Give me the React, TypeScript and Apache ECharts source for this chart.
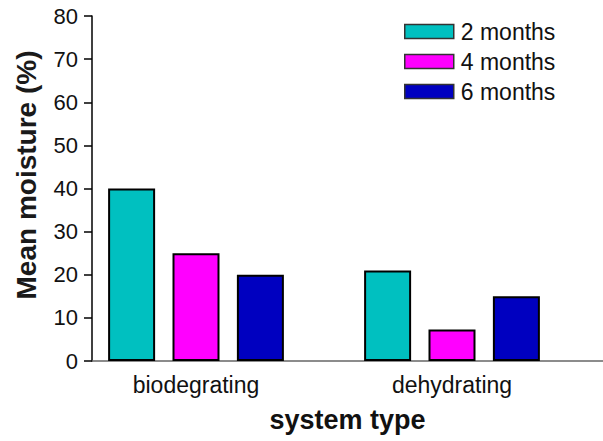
import React, { useEffect, useRef } from "react";
import * as echarts from "echarts";

const categories = ["biodegrating", "dehydrating"];
const seriesNames = ["2 months", "4 months", "6 months"];
const twoMonths = [40, 21];
const fourMonths = [25, 7.3];
const sixMonths = [20, 15];
const seriesColors = ["#00C0C0", "#FF00FF", "#0000C0"];

export default function App() {
  const ref = useRef<HTMLDivElement>(null);
  useEffect(() => {
    if (!ref.current) return;
    const chart = echarts.init(ref.current, undefined, { renderer: "svg" });
    const values = [twoMonths, fourMonths, sixMonths];
    const font = "Liberation Sans, Arial, sans-serif";
    chart.setOption({
      animation: false,
      backgroundColor: "#ffffff",
      textStyle: { fontFamily: font },
      legend: {
        orient: "vertical",
        left: 404,
        top: 20,
        padding: 0,
        itemWidth: 49,
        itemHeight: 14,
        itemGap: 7,
        icon: "rect",
        textStyle: { fontSize: 23, color: "#111", fontFamily: font, padding: [0, 0, 0, 2] },
        itemStyle: { borderColor: "#333", borderWidth: 1.5 },
        data: seriesNames,
      },
      grid: [
        { left: 68, right: 23, top: 16, bottom: 80 },
        { left: 92, right: 0, top: 16, bottom: 80 },
      ],
      xAxis: [
        {
          type: "category",
          gridIndex: 0,
          data: categories,
          axisLine: { show: false },
          axisTick: { show: false },
          axisLabel: { fontSize: 23, color: "#111", margin: 12, fontFamily: font },
        },
        {
          type: "value",
          gridIndex: 1,
          min: 0,
          max: 1,
          axisLine: { show: true, lineStyle: { color: "#666", width: 1.5 } },
          axisTick: { show: false },
          axisLabel: { show: false },
          splitLine: { show: false },
          name: "system type",
          nameLocation: "middle",
          nameGap: 45,
          nameTextStyle: { fontSize: 27, fontWeight: "bold", color: "#111", fontFamily: font },
        },
      ],
      yAxis: [
        { type: "value", gridIndex: 0, min: 0, max: 80, show: false },
        {
          type: "value",
          gridIndex: 1,
          min: 0,
          max: 80,
          interval: 10,
          axisLine: { show: true, lineStyle: { color: "#000", width: 1.5 } },
          axisTick: { show: true, length: 8, lineStyle: { color: "#000", width: 1.5 } },
          axisLabel: { fontSize: 22, color: "#111", margin: 14, fontFamily: font },
          splitLine: { show: false },
          name: "Mean moisture (%)",
          nameLocation: "middle",
          nameGap: 52,
          nameRotate: 90,
          nameTextStyle: {
            fontSize: 28,
            fontWeight: "bold",
            color: "#1a1a1a",
            fontFamily: font,
            padding: [0, 0, 0, 27],
          },
        },
      ],
      series: seriesNames.map((name, i) => ({
        name,
        type: "bar",
        xAxisIndex: 0,
        yAxisIndex: 0,
        barWidth: 47,
        barGap: "37%",
        data: values[i],
        itemStyle: { color: seriesColors[i], borderColor: "#000", borderWidth: 2 },
      })),
    });
    return () => chart.dispose();
  }, []);
  return (
    <div
      ref={ref}
      style={{ position: "fixed", left: 0, top: 0, width: 603, height: 441 }}
    />
  );
}
